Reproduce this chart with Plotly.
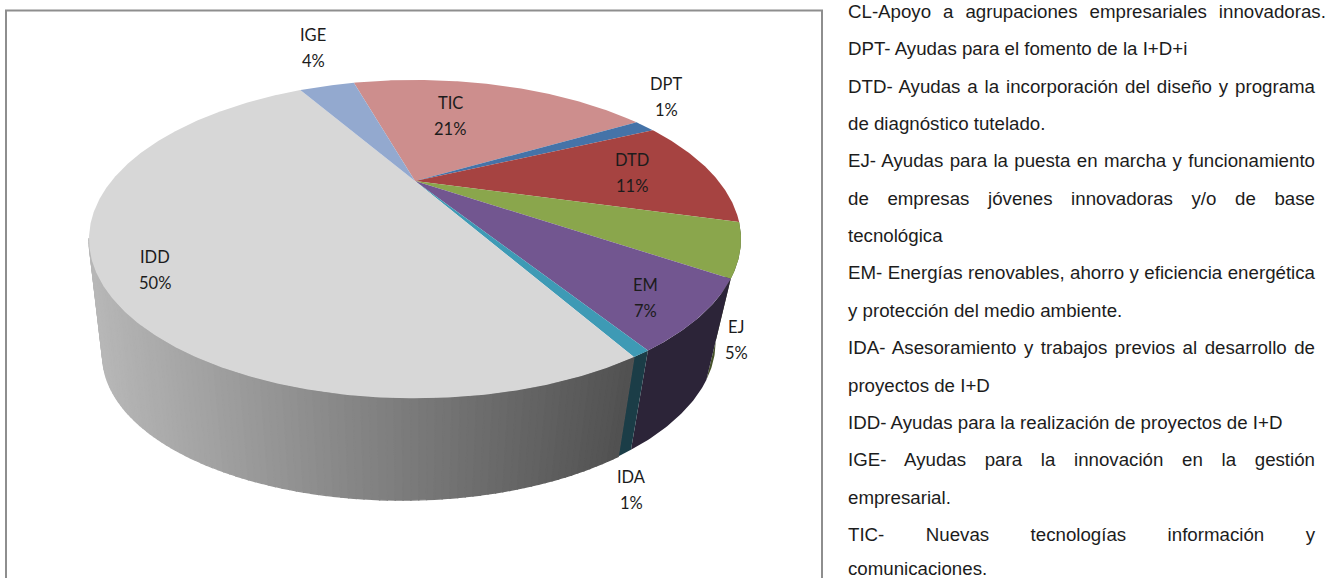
import json
import numpy as np
import plotly.graph_objects as go

# ---- data -------------------------------------------------------------
names = ["TIC", "DPT", "DTD", "EJ", "EM", "IDA", "IDD", "IGE"]
values = [21.0, 1.4, 11.3, 5.2, 6.6, 0.7, 49.9, 3.9]
display_pct = [21, 1, 11, 5, 7, 1, 50, 4]

top_colors = ["#CD8E8D", "#4573A8", "#A64341", "#8AA64C", "#725690", "#3E9AB5", "#D7D7D7", "#93A9CF"]
wall_colors = ["#6B4443", "#20375A", "#562321", "#46522A", "#2C2438", "#1B3D47", None, "#4A5568"]

legend_lines = [
    "CL-Apoyo\u00a0\u200a a\u00a0\u200a agrupaciones\u00a0\u200a empresariales\u00a0\u200a innovadoras.",
    "DPT- Ayudas para el fomento de la I+D+i",
    "DTD- Ayudas a la incorporación del diseño y programa",
    "de diagnóstico tutelado.",
    "EJ- Ayudas para la puesta en marcha y funcionamiento",
    "de empresas jóvenes innovadoras y/o de base",
    "tecnológica",
    "EM- Energías renovables, ahorro y eficiencia energética",
    "y protección del medio ambiente.",
    "IDA- Asesoramiento y trabajos previos al desarrollo de",
    "proyectos de I+D",
    "IDD- Ayudas para la realización de proyectos de I+D",
    "IGE- Ayudas para la innovación en la gestión",
    "empresarial.",
    "TIC- Nuevas tecnologías información y",
    "comunicaciones.",
]
fitted_lines = {2: 1315, 4: 1315, 5: 1315, 7: 1315, 9: 1315, 12: 1315, 14: 1315}

# ---- layout of the drawing (pixels) ------------------------------------
W, H_PX = 1330, 578
CX, CY = 415, 181
R, H, K = 303.5, 138, 0.365
START_DEG = -15.8
BOTTOM_SX, BOTTOM_QX, BOTTOM_SY, BOTTOM_CY, BOTTOM_TILT = 0.94, 5.5e-5, 0.95, 293.5, 0.02
label_centres = {
    "TIC": (450, 103), "DPT": (666, 84), "DTD": (632, 160), "EJ": (736, 327),
    "EM": (645, 285), "IDA": (631, 477), "IDD": (155, 257), "IGE": (313, 35),
}
LABEL_GAP = 26
LABEL_FONT = dict(family="Lato", size=16.5, color="#1c1c1c")
LEGEND_FONT = dict(family="Liberation Sans", size=18.7, color="#1c1c1c")
LEGEND_X, LEGEND_Y0, LEGEND_DY = 846, 11.5, 37.35
LAST_LINE_LIFT = 3


def top_point(deg):
    t = np.radians(deg)
    u, v = np.sin(t), np.cos(t)
    f = 1 / (1 + K * v)
    return CX + R * u * f, CY - H * v * f


def bottom_point(deg):
    x, y = top_point(deg)
    dx = x - CX
    return (CX + BOTTOM_SX * dx - BOTTOM_QX * dx * dx,
            BOTTOM_CY + BOTTOM_SY * (y - CY) - BOTTOM_TILT * dx)


def poly(fig, xs, ys, color, edge=0):
    fig.add_trace(go.Scatter(
        x=list(xs), y=list(ys), mode="lines", fill="toself", fillcolor=color,
        line=dict(color=color, width=edge),
        hoverinfo="skip", showlegend=False,
    ))


def wall_gray(x):
    g = int(round(np.clip(0xB8 + (x - 95) * (0x50 - 0xB8) / (630 - 95), 0x50, 0xB8)))
    return f"rgb({g},{g},{g})"


fig = go.Figure()

# slice boundaries from the values
total = sum(values)
edges = np.concatenate([[0], np.cumsum(values)]) / total * 360 + START_DEG

# side walls first (front part only; the top face hides the rest)
for i, name in enumerate(names):
    a, b = edges[i], edges[i + 1]
    lo, hi = max(a, 105), min(b, 249)
    if hi <= lo:
        continue
    if wall_colors[i] is None:
        # one-colour strips, drawn from the far-left end to the right so that
        # each one covers the seam of the one before
        steps = np.arange(lo, hi, 1.0)[::-1]
        for s in steps:
            e = min(s + 1.0, hi)
            tx0, ty0 = top_point(s)
            tx1, ty1 = top_point(e)
            bx0, by0 = bottom_point(s)
            bx1, by1 = bottom_point(e)
            poly(fig, [tx0, tx1, bx1, bx0, tx0], [ty0, ty1, by1, by0, ty0],
                 wall_gray((tx0 + tx1 + bx0 + bx1) / 4), edge=1.4)
    else:
        th = np.linspace(lo, hi, 40)
        tp = [top_point(d) for d in th]
        bp = [bottom_point(d) for d in th[::-1]]
        pts = tp + bp + [tp[0]]
        poly(fig, [p[0] for p in pts], [p[1] for p in pts], wall_colors[i])

# top face
for i, name in enumerate(names):
    th = np.linspace(edges[i], edges[i + 1], max(4, int((edges[i + 1] - edges[i]) * 2)))
    pts = [(CX, CY)] + [top_point(d) for d in th] + [(CX, CY)]
    poly(fig, [p[0] for p in pts], [p[1] for p in pts], top_colors[i])

# slice labels
annotations = []
for name, pct in zip(names, display_pct):
    lx, ly = label_centres[name]
    annotations.append(dict(x=lx, y=ly, text=name, showarrow=False, font=LABEL_FONT,
                            xanchor="center", yanchor="middle"))
    annotations.append(dict(x=lx, y=ly + LABEL_GAP, text=f"{pct}%", showarrow=False, font=LABEL_FONT,
                            xanchor="center", yanchor="middle"))

# glossary at right
for i, line in enumerate(legend_lines):
    y = LEGEND_Y0 + i * LEGEND_DY
    if i == len(legend_lines) - 1:
        y -= LAST_LINE_LIFT
    annotations.append(dict(x=LEGEND_X, y=y, text=line, showarrow=False,
                            font=LEGEND_FONT, xanchor="left", yanchor="middle", align="left"))

# chart frame (open at the bottom, it runs off the page)
frame = dict(type="path", path="M 6,600 L 6,10.5 L 822,10.5 L 822,600",
             line=dict(color="#8E8E8E", width=2), xref="x", yref="y")

fig.update_layout(
    width=W, height=H_PX, margin=dict(l=0, r=0, t=0, b=0),
    paper_bgcolor="white", plot_bgcolor="white", showlegend=False,
    xaxis=dict(range=[0, W], visible=False, fixedrange=True),
    yaxis=dict(range=[H_PX, 0], visible=False, fixedrange=True),
    shapes=[frame], annotations=annotations, hovermode=False,
)

fit_map = {legend_lines[i]: r for i, r in fitted_lines.items()}
post = """
document.body.style.margin='0';
document.documentElement.style.overflow='hidden';
var fitMap=%s, textLeft=%d;
document.querySelectorAll('.annotation-text').forEach(function(t){
  var s=t.textContent;
  if(!(s in fitMap)) return;
  var gaps=s.split(' ').length-1;
  var extra=(fitMap[s]-textLeft-2-t.getComputedTextLength())/gaps;
  t.style.wordSpacing=extra+'px';
});
""" % (json.dumps(fit_map), LEGEND_X)

fig.write_html("out.html", post_script=post, config={"displayModeBar": False})
